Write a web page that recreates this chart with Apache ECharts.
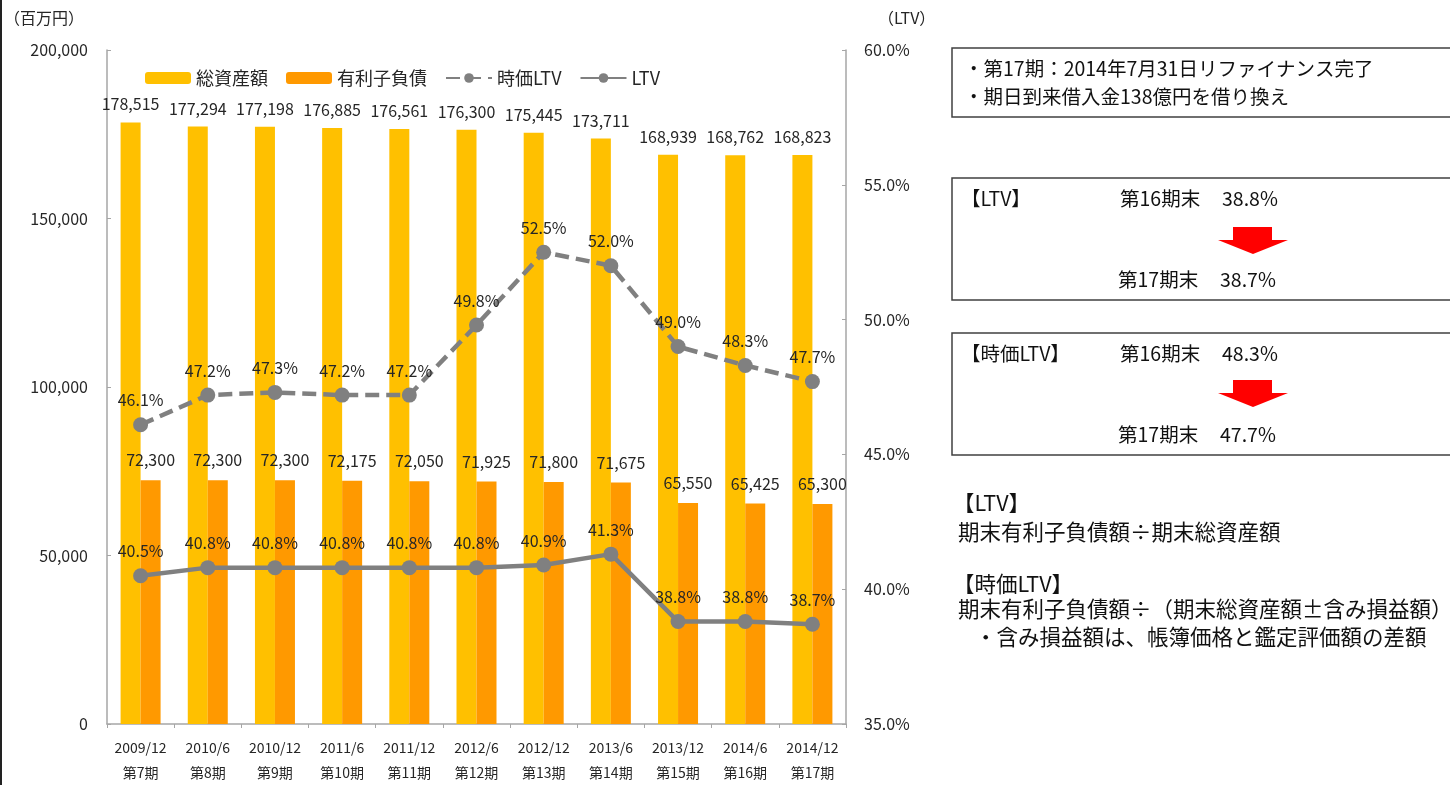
<!DOCTYPE html>
<html>
<head>
<meta charset="utf-8">
<script src="https://cdn.jsdelivr.net/npm/echarts@6/dist/echarts.min.js"></script>
<style>
  html, body { margin: 0; padding: 0; background: #fff; }
  #chart { width: 1450px; height: 785px; }
</style>
</head>
<body>
<div id="chart"></div>
<script>
// Period-end dates and fiscal terms
const periods = ['2009/12', '2010/6', '2010/12', '2011/6', '2011/12', '2012/6', '2012/12', '2013/6', '2013/12', '2014/6', '2014/12'];
const terms = ['第7期', '第8期', '第9期', '第10期', '第11期', '第12期', '第13期', '第14期', '第15期', '第16期', '第17期'];

// Balance sheet figures (million yen)
const totalAssets = [178515, 177294, 177198, 176885, 176561, 176300, 175445, 173711, 168939, 168762, 168823];
const interestDebt = [72300, 72300, 72300, 72175, 72050, 71925, 71800, 71675, 65550, 65425, 65300];

// Loan-to-value ratios (%)
const marketLtv = [46.1, 47.2, 47.3, 47.2, 47.2, 49.8, 52.5, 52.0, 49.0, 48.3, 47.7];
const bookLtv = [40.5, 40.8, 40.8, 40.8, 40.8, 40.8, 40.9, 41.3, 38.8, 38.8, 38.7];

// Axis ranges
const amountAxis = { min: 0, max: 200000, interval: 50000 };
const ratioAxis = { min: 35, max: 60, interval: 5 };

const FONT = '"Noto Sans CJK JP", "Noto Sans", sans-serif';
const YELLOW = '#FFC000';
const ORANGE = '#FF9900';
const GRAY = '#808080';
const TXT = '#262626';

const fmtAmount = v => Number(v).toLocaleString('en-US');
const fmtPct = v => Number(v).toFixed(1) + '%';

const chart = echarts.init(document.getElementById('chart'), null, { renderer: 'canvas' });

function txt(x, y, text, size, color) {
  return {
    type: 'text', x: x, y: y,
    style: { text: text, font: size + 'px ' + FONT, fill: color || '#111', textVerticalAlign: 'middle', textAlign: 'left' }
  };
}
function box(x, y, w, h) {
  return { type: 'rect', shape: { x: x, y: y, width: w, height: h }, style: { fill: 'none', stroke: '#404040', lineWidth: 1.5 } };
}
function arrow(x0, yTop) {
  // downward block arrow
  return {
    type: 'polygon',
    shape: { points: [[x0 + 15, yTop], [x0 + 54, yTop], [x0 + 54, yTop + 13], [x0 + 70, yTop + 13], [x0 + 35, yTop + 27], [x0, yTop + 13], [x0 + 15, yTop + 13]] },
    style: { fill: '#FF0000' }
  };
}

const BOX_FS = 19.5;
const NOTE_FS = 21.5;

const option = {
  backgroundColor: '#fff',
  textStyle: { fontFamily: FONT },
  animation: false,
  grid: { left: 107, right: 604, top: 50, bottom: 57 },
  legend: {
    left: 140, top: 64,
    itemWidth: 46, itemHeight: 12, itemGap: 18,
    textStyle: { fontSize: 18, color: TXT, fontFamily: FONT },
    data: ['総資産額', '有利子負債', '時価LTV', 'LTV']
  },
  xAxis: {
    type: 'category',
    data: periods,
    axisLine: { lineStyle: { color: '#A6A6A6', width: 1.5 } },
    axisTick: { show: true, length: 4, lineStyle: { color: '#A6A6A6' } },
    axisLabel: {
      interval: 0, margin: 11, color: TXT, fontSize: 14, lineHeight: 25, fontFamily: FONT,
      formatter: (v, i) => v + '\n' + terms[i]
    }
  },
  yAxis: [
    {
      type: 'value', min: amountAxis.min, max: amountAxis.max, interval: amountAxis.interval,
      splitLine: { show: false },
      axisLine: { show: true, lineStyle: { color: '#A6A6A6', width: 1.5 } },
      axisTick: { show: true, inside: true, length: 4, lineStyle: { color: '#A6A6A6' } },
      axisLabel: { margin: 19, color: TXT, fontSize: 16, fontFamily: FONT, formatter: fmtAmount }
    },
    {
      type: 'value', min: ratioAxis.min, max: ratioAxis.max, interval: ratioAxis.interval,
      splitLine: { show: false },
      axisLine: { show: true, lineStyle: { color: '#A6A6A6', width: 1.5 } },
      axisTick: { show: true, inside: true, length: 4, lineStyle: { color: '#A6A6A6' } },
      axisLabel: { margin: 18, color: TXT, fontSize: 16, fontFamily: FONT, formatter: fmtPct }
    }
  ],
  series: [
    {
      name: '総資産額', type: 'bar', yAxisIndex: 0, data: totalAssets,
      barWidth: 20, barGap: '0%',
      itemStyle: { color: YELLOW },
      label: { show: true, position: 'top', distance: 10, color: TXT, fontSize: 16, fontFamily: FONT, formatter: p => fmtAmount(p.value) }
    },
    {
      name: '有利子負債', type: 'bar', yAxisIndex: 0, data: interestDebt,
      barWidth: 20, barGap: '0%',
      itemStyle: { color: ORANGE },
      label: { show: true, position: 'top', distance: 12, color: TXT, fontSize: 16, fontFamily: FONT, formatter: p => fmtAmount(p.value) }
    },
    {
      name: '時価LTV', type: 'line', yAxisIndex: 1, data: marketLtv,
      symbol: 'circle', symbolSize: 15,
      lineStyle: { color: GRAY, width: 4.5, type: [14, 7] },
      itemStyle: { color: GRAY },
      label: { show: true, position: 'top', distance: 9, color: TXT, fontSize: 16, fontFamily: FONT, formatter: p => fmtPct(p.value) },
      z: 5
    },
    {
      name: 'LTV', type: 'line', yAxisIndex: 1, data: bookLtv,
      symbol: 'circle', symbolSize: 15,
      lineStyle: { color: GRAY, width: 4.5 },
      itemStyle: { color: GRAY },
      label: { show: true, position: 'top', distance: 9, color: TXT, fontSize: 16, fontFamily: FONT, formatter: p => fmtPct(p.value) },
      z: 5
    }
  ],
  graphic: [
    // frame edge
    { type: 'rect', shape: { x: 0, y: 0, width: 2, height: 785 }, style: { fill: '#222' } },
    // axis units
    txt(4, 18, '（百万円）', 16, TXT),
    txt(878, 18, '（LTV）', 16, TXT),

    // refinancing note
    box(952, 48, 510, 69),
    txt(964, 69, '・第17期：2014年7月31日リファイナンス完了', BOX_FS),
    txt(964, 97, '・期日到来借入金138億円を借り換え', BOX_FS),

    // LTV change
    box(952, 178, 510, 122),
    txt(961, 199, '【LTV】', BOX_FS),
    txt(1120, 199, '第16期末', BOX_FS),
    txt(1222, 199, '38.8%', BOX_FS),
    arrow(1218, 227),
    txt(1118, 280, '第17期末', BOX_FS),
    txt(1220, 280, '38.7%', BOX_FS),

    // market-value LTV change
    box(952, 333, 510, 122),
    txt(961, 354, '【時価LTV】', BOX_FS),
    txt(1120, 354, '第16期末', BOX_FS),
    txt(1222, 354, '48.3%', BOX_FS),
    arrow(1218, 380),
    txt(1118, 435, '第17期末', BOX_FS),
    txt(1220, 435, '47.7%', BOX_FS),

    // definitions
    txt(953, 503, '【LTV】', NOTE_FS),
    txt(958, 532, '期末有利子負債額÷期末総資産額', NOTE_FS),
    txt(953, 584, '【時価LTV】', NOTE_FS),
    txt(958, 609, '期末有利子負債額÷（期末総資産額±含み損益額）', NOTE_FS),
    txt(975, 637, '・含み損益額は、帳簿価格と鑑定評価額の差額', NOTE_FS)
  ]
};

chart.setOption(option);
</script>
</body>
</html>
